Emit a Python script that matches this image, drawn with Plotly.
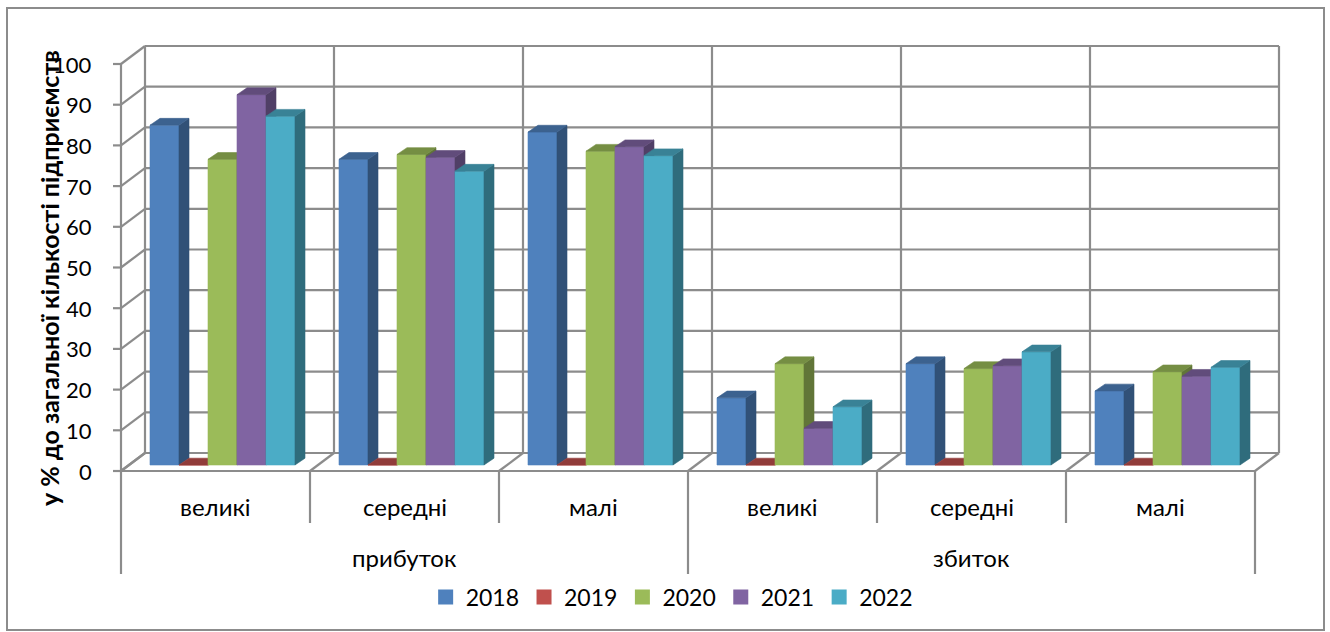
import plotly.graph_objects as go

# ---------------- data ----------------
groups = ["прибуток", "збиток"]
sizes = ["великі", "середні", "малі"]
years = ["2018", "2019", "2020", "2021", "2022"]
v2018 = [83.5, 75.1, 81.8, 16.5, 24.9, 18.2]
v2019 = [0, 0, 0, 0, 0, 0]
v2020 = [75.1, 76.3, 77.1, 24.9, 23.7, 22.9]
v2021 = [91.0, 75.6, 78.2, 9.0, 24.4, 21.8]
v2022 = [85.7, 72.2, 76.0, 14.3, 27.8, 24.0]
yticks = [0, 10, 20, 30, 40, 50, 60, 70, 80, 90, 100]
y_title = "у % до загальної кількості підприємств"

series = [v2018, v2019, v2020, v2021, v2022]
colors = ["#4F81BD", "#C0504D", "#9BBB59", "#8064A2", "#4BACC6"]

# ---------------- geometry (pixel calibration) ----------------
W, H = 1330, 632
X0, CW = 129.0, 189.0      # px of category 0 at bar plane, px per category
Y0, YS = 465.0, 4.07       # px of value 0 at bar plane, px per value unit
PX = 1.0 / CW              # one pixel in x data units
PY = 1.0 / YS              # one pixel in y data units

ncat = len(sizes) * len(groups)
BAR_OFF = 21 * PX
BAR_W = 29 * PX
DX, DY = 10 * PX, 6.8 * PY
FX, FY = -8 * PX, -6 * PY      # front plane offset
BX, BY = 16 * PX, 12 * PY      # back plane offset
ymax = yticks[-1]

xr = [(0 - X0) / CW, (W - X0) / CW]
yr = [(Y0 - H) / YS, (Y0 - 0) / YS]

GRID = "#8c8c8c"
FONT = "Lato"


def shade(hexc, f):
    h = hexc.lstrip("#")
    r, g, b = (int(h[i:i + 2], 16) for i in (0, 2, 4))
    return "#%02x%02x%02x" % (int(r * f), int(g * f), int(b * f))


fig = go.Figure()

# ---------------- walls / grid ----------------
lx, ly = [], []


def seg(x0, y0, x1, y1):
    lx.extend([x0, x1, None])
    ly.extend([y0, y1, None])


for t in yticks:
    seg(BX, t + BY, ncat + BX, t + BY)          # back wall horizontal
    seg(FX, t + FY, BX, t + BY)                 # left wall slant
    seg(FX - 8 * PX, t + FY, FX, t + FY)        # tick mark
for i in range(ncat + 1):
    seg(i + BX, BY, i + BX, ymax + BY)          # back wall vertical
    seg(i + FX, FY, i + BX, BY)                 # floor divider
    depth = 103 if i % len(sizes) == 0 else 52
    seg(i + FX, FY, i + FX, FY - depth * PY)    # category separator
seg(FX, FY, FX, ymax + FY)                      # front axis
seg(FX, FY, ncat + FX, FY)                      # floor front edge

fig.add_trace(go.Scatter(x=lx, y=ly, mode="lines",
                         line=dict(color=GRID, width=2.2),
                         hoverinfo="skip", showlegend=False))

# ---------------- 3D bars ----------------
for j, vals in enumerate(series):
    fx_, fy_, sx_, sy_, tx_, ty_ = [], [], [], [], [], []
    for c, v in enumerate(vals):
        xl = c + BAR_OFF + j * BAR_W
        xr_ = xl + BAR_W
        fx_ += [xl, xr_, xr_, xl, xl, None]
        fy_ += [0, 0, v, v, 0, None]
        sx_ += [xr_, xr_ + DX, xr_ + DX, xr_, xr_, None]
        sy_ += [0, DY, v + DY, v, 0, None]
        tx_ += [xl, xl + DX, xr_ + DX, xr_, xl, None]
        ty_ += [v, v + DY, v + DY, v, v, None]
    base = colors[j]
    for xs, ys, col in ((fx_, fy_, base),
                        (sx_, sy_, shade(base, 0.63)),
                        (tx_, ty_, shade(base, 0.76))):
        fig.add_trace(go.Scatter(x=xs, y=ys, mode="lines", fill="toself",
                                 fillcolor=col, line=dict(color=col, width=0.6),
                                 hoverinfo="skip", showlegend=False))

# legend entries
for j, yname in enumerate(years):
    fig.add_trace(go.Scatter(x=[None], y=[None], mode="markers", name=yname,
                             marker=dict(symbol="square", size=15, color=colors[j]),
                             showlegend=True))

# ---------------- text ----------------
ann = []
for t in yticks:
    ann.append(dict(x=FX - 27 * PX, y=t + FY, text=str(t), xanchor="right",
                    yanchor="middle", showarrow=False,
                    font=dict(family=FONT, size=22, color="#000")))
for gi, g in enumerate(groups):
    for si, s in enumerate(sizes):
        c = gi * len(sizes) + si
        ann.append(dict(x=c + 0.5 + FX, y=FY - 35 * PY, text=s, showarrow=False,
                        xanchor="center", yanchor="middle",
                        font=dict(family=FONT, size=24, color="#000")))
    ann.append(dict(x=gi * len(sizes) + len(sizes) / 2 + FX, y=FY - 86 * PY, text=g,
                    showarrow=False, xanchor="center", yanchor="middle",
                    font=dict(family=FONT, size=24, color="#000")))
ann.append(dict(x=(49 - X0) / CW, y=(Y0 - 278) / YS, text="<b>" + y_title + "</b>",
                textangle=-90, showarrow=False, xanchor="center", yanchor="middle",
                font=dict(family=FONT, size=25, color="#000")))

fig.update_layout(
    width=W, height=H,
    margin=dict(l=0, r=0, t=0, b=0),
    paper_bgcolor="white", plot_bgcolor="white",
    xaxis=dict(range=xr, visible=False, fixedrange=True),
    yaxis=dict(range=yr, visible=False, fixedrange=True),
    annotations=ann,
    legend=dict(orientation="h", x=0.505, xanchor="center",
                y=1 - 597 / H, yanchor="middle",
                font=dict(family=FONT, size=23, color="#000"),
                itemclick=False, itemdoubleclick=False),
    shapes=[dict(type="rect", xref="paper", yref="paper",
                 x0=7 / W, x1=1324 / W, y0=1 - 630 / H, y1=1 - 8 / H,
                 line=dict(color="#8c8c8c", width=2), layer="below")],
    hovermode=False,
)

fig.write_html(
    "out.html",
    config={"displayModeBar": False},
    post_script="document.body.style.margin='0';document.body.style.overflow='hidden';",
)
